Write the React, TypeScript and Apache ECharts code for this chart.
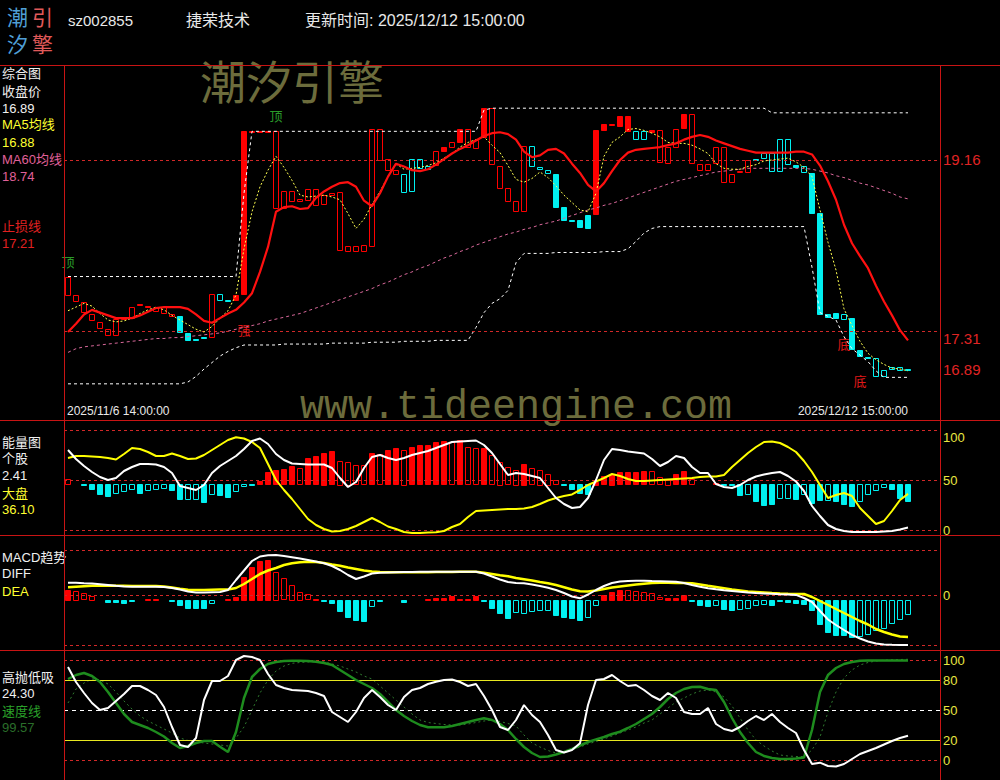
import React, { useEffect, useRef } from 'react';
import * as echarts from 'echarts';

// ---------- categories (60-minute bars) ----------
const tradingDays = ['2025/11/6', '2025/11/7', '2025/11/10', '2025/11/11', '2025/11/12', '2025/11/13', '2025/11/14',
  '2025/11/17', '2025/11/18', '2025/11/19', '2025/11/20', '2025/11/21', '2025/11/24', '2025/11/25', '2025/11/26',
  '2025/11/27', '2025/11/28', '2025/12/1', '2025/12/2', '2025/12/3', '2025/12/4', '2025/12/5', '2025/12/8',
  '2025/12/9', '2025/12/10', '2025/12/11', '2025/12/12'];
const sessionHours = ['10:30:00', '11:30:00', '14:00:00', '15:00:00'];
const barTimes: string[] = [];
tradingDays.forEach((d) => sessionHours.forEach((h) => barTimes.push(d + ' ' + h)));
barTimes.splice(0, 2); // first day starts at 14:00

// ---------- main panel ----------
const candleOpen = [
  17.71, 17.64, 17.52, 17.43, 17.34, 17.27, 17.27, 17.44, 17.45, 17.59,
  17.57, 17.53, 17.51, 17.48, 17.47, 17.29, 17.22, 17.245, 17.25, 17.71,
  17.645, 17.65, 17.71, 19.465, 19.465, 19.465, 18.64, 18.64, 18.71, 18.72,
  18.73, 18.68, 18.68, 18.78, 18.18, 18.18, 18.18, 18.17, 18.24, 19.17,
  19.05, 19.01, 19.01, 19.17, 19.17, 19.10, 19.11, 19.26, 19.30, 19.35,
  19.29, 19.29, 19.41, 19.11, 18.86, 18.72, 18.61, 18.61, 19.31, 19.08,
  19.05, 19.01, 18.65, 18.51, 18.51, 18.57, 18.57, 19.48, 19.54, 19.53,
  19.48, 19.47, 19.47, 19.46, 19.13, 19.13, 19.30, 19.51, 19.13, 19.06,
  19.06, 19.13, 18.92, 18.92, 19.03, 19.03, 19.175, 19.24, 19.24, 19.39,
  19.39, 19.11, 19.09, 19.02, 18.59, 17.49, 17.51, 17.50, 17.45, 17.11,
  17.035, 17.02, 16.89, 16.92, 16.92, 16.895];
const candleClose = [
  17.90, 17.70, 17.63, 17.50, 17.41, 17.33, 17.44, 17.46, 17.57, 17.60,
  17.58, 17.56, 17.57, 17.50, 17.30, 17.21, 17.21, 17.24, 17.71, 17.65,
  17.64, 17.70, 19.47, 19.47, 19.47, 19.47, 19.47, 18.82, 18.82, 18.74,
  18.85, 18.85, 18.78, 18.80, 18.81, 18.23, 18.23, 18.24, 19.50, 19.50,
  19.17, 19.05, 18.82, 18.82, 19.07, 19.07, 19.26, 19.30, 19.35, 19.49,
  19.49, 19.38, 19.72, 19.72, 19.10, 18.86, 18.72, 19.31, 19.09, 19.06,
  19.02, 18.65, 18.51, 18.50, 18.43, 18.43, 19.48, 19.55, 19.55, 19.64,
  19.64, 19.38, 19.38, 19.48, 19.48, 19.30, 19.50, 19.66, 19.66, 19.12,
  19.12, 19.30, 19.30, 19.01, 19.04, 19.16, 19.165, 19.19, 19.04, 19.04,
  19.12, 19.09, 19.03, 18.59, 17.50, 17.46, 17.46, 17.45, 17.11, 17.04,
  17.025, 16.82, 16.82, 16.90, 16.89, 16.89];
const candleSolid = [
  0, 0, 0, 0, 0, 0, 0, 0, 0, 1,
  1, 0, 0, 0, 1, 1, 1, 1, 0, 0,
  1, 1, 1, 1, 1, 1, 0, 0, 0, 0,
  0, 0, 0, 0, 0, 0, 0, 0, 0, 0,
  0, 0, 0, 0, 0, 0, 0, 1, 0, 1,
  0, 0, 1, 0, 0, 0, 0, 0, 0, 0,
  0, 1, 1, 1, 1, 1, 1, 1, 1, 1,
  1, 0, 0, 1, 0, 0, 0, 1, 0, 0,
  0, 0, 0, 0, 0, 0, 1, 0, 0, 0,
  0, 1, 0, 1, 1, 1, 1, 0, 1, 1,
  1, 0, 0, 0, 0, 1];
const stopLine = [
  17.30, 17.39, 17.49, 17.54, 17.51, 17.48, 17.45, 17.45, 17.45, 17.48,
  17.52, 17.56, 17.57, 17.57, 17.57, 17.55, 17.49, 17.42, 17.40, 17.45,
  17.50, 17.54, 17.62, 17.72, 17.95, 18.22, 18.60, 18.65, 18.66, 18.63,
  18.64, 18.75, 18.82, 18.87, 18.91, 18.92, 18.87, 18.72, 18.66, 18.80,
  18.98, 19.12, 19.09, 19.05, 19.04, 19.06, 19.11, 19.17, 19.23, 19.28,
  19.32, 19.37, 19.42, 19.45, 19.46, 19.44, 19.38, 19.25, 19.19, 19.21,
  19.27, 19.28, 19.23, 19.12, 19.02, 18.89, 18.82, 18.91, 19.04, 19.16,
  19.24, 19.27, 19.28, 19.29, 19.30, 19.32, 19.34, 19.38, 19.41, 19.43,
  19.41, 19.37, 19.34, 19.31, 19.28, 19.26, 19.24, 19.24, 19.24, 19.24,
  19.24, 19.25, 19.25, 19.22, 19.10, 18.93, 18.73, 18.46, 18.26, 18.12,
  17.99, 17.80, 17.63, 17.48, 17.32, 17.21];
const ma5 = [
  17.53, 17.57, 17.61, 17.58, 17.50, 17.43, 17.41, 17.42, 17.45, 17.50,
  17.54, 17.57, 17.54, 17.48, 17.43, 17.38, 17.33, 17.30, 17.36, 17.45,
  17.53, 17.70, 18.20, 18.60, 18.87, 19.05, 19.20, 19.08, 18.94, 18.78,
  18.76, 18.77, 18.78, 18.76, 18.73, 18.58, 18.42, 18.52, 18.68, 18.82,
  18.98, 19.12, 19.06, 19.07, 19.08, 19.10, 19.13, 19.18, 19.23, 19.30,
  19.35, 19.38, 19.41, 19.32, 19.24, 19.10, 18.95, 18.92, 18.96, 19.03,
  18.97, 18.88, 18.78, 18.70, 18.62, 18.60, 18.80, 19.20, 19.35, 19.41,
  19.49, 19.50, 19.48, 19.45, 19.41, 19.35, 19.34, 19.34, 19.32, 19.28,
  19.23, 19.12, 19.07, 19.06, 19.06, 19.09, 19.11, 19.15, 19.16, 19.17,
  19.18, 19.14, 19.08, 18.98, 18.62, 18.27, 17.97, 17.55, 17.37, 17.20,
  17.07, 17.00, 16.95, 16.91, 16.90, 16.88];
const ma60 = [
  17.08, 17.12, 17.14, 17.15, 17.16, 17.17, 17.18, 17.19, 17.20, 17.21,
  17.22, 17.23, 17.23, 17.24, 17.24, 17.25, 17.26, 17.27, 17.28, 17.29,
  17.31, 17.33, 17.35, 17.37, 17.39, 17.42, 17.44, 17.46, 17.48, 17.50,
  17.53, 17.56, 17.59, 17.62, 17.65, 17.68, 17.71, 17.74, 17.77, 17.81,
  17.84, 17.88, 17.92, 17.95, 17.99, 18.02, 18.06, 18.10, 18.13, 18.17,
  18.20, 18.24, 18.27, 18.30, 18.33, 18.36, 18.38, 18.41, 18.43, 18.46,
  18.48, 18.50, 18.53, 18.56, 18.59, 18.62, 18.64, 18.67, 18.69, 18.72,
  18.75, 18.78, 18.81, 18.84, 18.87, 18.90, 18.93, 18.95, 18.97, 18.99,
  19.01, 19.03, 19.04, 19.05, 19.06, 19.07, 19.07, 19.07, 19.07, 19.07,
  19.07, 19.07, 19.07, 19.06, 19.04, 19.02, 18.99, 18.97, 18.94, 18.91,
  18.89, 18.86, 18.83, 18.80, 18.76, 18.74];
const upperBand = [
  17.90, 17.90, 17.90, 17.90, 17.90, 17.90, 17.90, 17.90, 17.90, 17.90,
  17.90, 17.90, 17.90, 17.90, 17.90, 17.90, 17.90, 17.90, 17.90, 17.90,
  17.90, 17.90, 18.80, 19.47, 19.47, 19.47, 19.47, 19.47, 19.47, 19.47,
  19.47, 19.47, 19.47, 19.47, 19.47, 19.47, 19.47, 19.47, 19.47, 19.47,
  19.47, 19.47, 19.47, 19.47, 19.47, 19.47, 19.47, 19.47, 19.47, 19.47,
  19.47, 19.47, 19.70, 19.72, 19.72, 19.72, 19.72, 19.72, 19.72, 19.72,
  19.72, 19.72, 19.72, 19.72, 19.72, 19.72, 19.72, 19.72, 19.72, 19.72,
  19.72, 19.72, 19.72, 19.72, 19.72, 19.72, 19.72, 19.72, 19.72, 19.72,
  19.72, 19.72, 19.72, 19.72, 19.72, 19.72, 19.72, 19.72, 19.67, 19.67,
  19.67, 19.67, 19.67, 19.67, 19.67, 19.67, 19.67, 19.67, 19.67, 19.67,
  19.67, 19.67, 19.67, 19.67, 19.67, 19.67];
const lowerBand = [
  16.74, 16.74, 16.74, 16.74, 16.74, 16.74, 16.74, 16.74, 16.74, 16.74,
  16.74, 16.74, 16.74, 16.74, 16.74, 16.76, 16.82, 16.90, 16.97, 17.04,
  17.09, 17.13, 17.16, 17.16, 17.16, 17.16, 17.16, 17.17, 17.17, 17.17,
  17.17, 17.17, 17.17, 17.18, 17.18, 17.18, 17.18, 17.18, 17.19, 17.19,
  17.19, 17.19, 17.20, 17.20, 17.20, 17.20, 17.21, 17.21, 17.21, 17.21,
  17.21, 17.35, 17.51, 17.61, 17.66, 17.75, 18.05, 18.15, 18.15, 18.15,
  18.15, 18.16, 18.16, 18.16, 18.16, 18.16, 18.16, 18.17, 18.17, 18.17,
  18.20, 18.28, 18.37, 18.42, 18.44, 18.44, 18.44, 18.44, 18.44, 18.44,
  18.44, 18.44, 18.44, 18.44, 18.44, 18.44, 18.44, 18.44, 18.44, 18.44,
  18.44, 18.44, 18.44, 18.00, 17.51, 17.47, 17.43, 17.25, 17.12, 17.05,
  16.98, 16.88, 16.81, 16.81, 16.81, 16.81];
const signalIndex = [0, 26, 22, 97, 99];
const signalPrice = [18.05, 19.625, 17.32, 17.16, 16.76];
const signalText = ['顶', '顶', '强', '底', '底'];
const priceTicks = [19.16, 17.31];

// ---------- energy panel ----------
const energyBar = [
  5.2, 0, -1, -5, -10, -12, -9, -7, -5, -8.5,
  -6, -5, -4, -6, -14.5, -14.5, -14.5, -18, -10, -11,
  -12.5, -7, -1.5, -0.5, 2.8, 12, 13.7, 15.4, 17.7, 16,
  26, 28, 31.5, 33, 23.5, 22.5, 19, 19, 30.8, 30,
  34, 36, 34.5, 37.3, 39, 39, 42, 43, 42, 44,
  37, 36, 36, 29, 22.5, 17, 14.5, 20.5, 16, 14.5,
  10.5, 4, -0.5, -5, -9, -10, 2.5, 8, 9.5, 12,
  12, 12, 13, 13, 7, 4.5, 10, 13, 5, 0,
  0, 1, -1, -1, -11, -10, -16.5, -21, -20, -13.5,
  -13.5, -14.5, -10, -18.5, -15.5, -15.5, -16.5, -20, -21.5, -16.5,
  -10, -6, -2.5, -5, -13.5, -16.5];
const energySolid = [
  0, 0, 1, 1, 1, 1, 0, 0, 0, 1,
  0, 0, 0, 1, 1, 0, 0, 1, 0, 1,
  1, 0, 0, 1, 1, 1, 1, 1, 1, 0,
  1, 1, 1, 1, 0, 0, 0, 0, 1, 0,
  1, 1, 0, 1, 1, 1, 1, 1, 0, 1,
  0, 0, 1, 0, 0, 0, 0, 1, 0, 0,
  0, 0, 1, 1, 1, 1, 1, 1, 1, 1,
  1, 1, 1, 0, 0, 0, 1, 1, 0, 0,
  0, 1, 1, 1, 1, 0, 1, 1, 1, 0,
  0, 1, 0, 1, 1, 0, 1, 1, 1, 0,
  0, 0, 0, 1, 1, 1];
const energyStock = [
  80, 71, 64, 58, 53, 50, 52, 59, 63, 66,
  66, 65.5, 63, 57, 44, 42, 40, 45, 57, 64,
  69, 74, 81, 89, 91.5, 86, 76, 70, 66.5, 66,
  65.5, 65.5, 65.5, 62, 52, 43, 48, 62, 73, 75,
  72, 70, 72, 75, 77, 79, 82, 85, 88, 88.5,
  89, 89.5, 85, 77, 66, 55, 57, 56, 54, 52,
  42, 32, 26, 22, 23, 32, 50, 70, 81, 80,
  78.5, 77.5, 76.5, 71, 64, 68, 74, 72, 63, 57,
  57, 46, 43, 42, 45, 50, 53.5, 55.5, 57, 58,
  54, 48.5, 39, 24, 14, 5, 1, -1, -2, -2,
  -2, -2, -1.5, -1, 0.5, 2.41];
const energyMarket = [
  72, 74, 74, 73.5, 73, 72, 70.5, 76, 82, 81,
  78, 74, 74, 76.5, 74, 71, 71.5, 75, 80, 85,
  90, 92.8, 91.5, 88, 82, 66, 50, 40, 31, 21,
  11, 5, 1, -1.5, -1, 1, 4, 8, 12, 8,
  3.5, 1, -2, -3, -3, -2.5, -2.3, -1, 3, 6,
  13, 19, 19.5, 20, 20.5, 21, 21, 21.5, 23, 26,
  29.5, 32, 34, 35.6, 40, 45, 48.5, 52, 56, 54,
  51, 49, 49, 49.5, 50, 50.5, 51, 51.5, 52, 53,
  53.4, 53.6, 55, 63, 70, 77, 83, 88, 88.5, 87,
  83, 78, 69, 58, 45, 32, 35, 37, 34, 22,
  14, 6, 9, 19, 30, 36.1];
const energyTicks = [0, 50, 100];

// ---------- MACD panel ----------
const macdBar = [
  0.10, 0.088, 0.062, 0.035, 0, -0.015, -0.015, -0.032, -0.010, 0,
  0.005, 0.005, 0, -0.010, -0.045, -0.078, -0.078, -0.078, -0.030, 0,
  0.010, 0.028, 0.228, 0.328, 0.388, 0.395, 0.278, 0.212, 0.145, 0.078,
  0.052, 0.005, -0.010, -0.030, -0.112, -0.165, -0.195, -0.205, -0.055, -0.010,
  0, 0, -0.020, 0, 0, 0.005, 0.015, 0.015, 0.035, 0.010,
  0.010, 0.040, -0.010, -0.080, -0.130, -0.175, -0.120, -0.130, -0.110, -0.095,
  -0.095, -0.145, -0.170, -0.180, -0.195, -0.165, -0.045, 0.045, 0.080, 0.100,
  0.100, 0.088, 0.078, 0.068, 0.022, 0.015, 0.020, 0.045, -0.010, -0.045,
  -0.058, -0.045, -0.092, -0.100, -0.085, -0.075, -0.050, -0.035, -0.045, -0.010,
  -0.020, -0.028, -0.040, -0.095, -0.240, -0.315, -0.350, -0.350, -0.365, -0.360,
  -0.335, -0.300, -0.275, -0.228, -0.185, -0.135];
const macdSolid = [
  1, 0, 0, 0, 0, 1, 1, 1, 1, 0,
  1, 1, 0, 1, 1, 1, 1, 1, 0, 0,
  1, 1, 1, 1, 1, 1, 0, 0, 0, 0,
  0, 1, 1, 1, 1, 1, 1, 1, 0, 1,
  0, 0, 1, 0, 0, 1, 1, 1, 1, 1,
  1, 1, 1, 1, 1, 1, 0, 0, 0, 0,
  0, 1, 1, 1, 1, 0, 0, 1, 1, 1,
  0, 0, 0, 0, 0, 1, 1, 1, 1, 1,
  1, 0, 1, 1, 0, 0, 0, 0, 1, 1,
  1, 1, 1, 1, 1, 1, 1, 1, 1, 0,
  0, 0, 0, 0, 0, 0];
const macdDiff = [
  0.123, 0.122, 0.118, 0.115, 0.108, 0.100, 0.092, 0.085, 0.083, 0.083,
  0.083, 0.083, 0.080, 0.070, 0.055, 0.035, 0.025, 0.025, 0.028, 0.030,
  0.050, 0.150, 0.245, 0.340, 0.385, 0.397, 0.400, 0.390, 0.378, 0.365,
  0.350, 0.335, 0.318, 0.290, 0.250, 0.200, 0.160, 0.185, 0.215, 0.222,
  0.226, 0.228, 0.230, 0.231, 0.232, 0.233, 0.233, 0.233, 0.233, 0.233,
  0.233, 0.233, 0.215, 0.185, 0.155, 0.130, 0.120, 0.118, 0.105, 0.090,
  0.072, 0.050, 0.020, -0.015, -0.033, 0.005, 0.050, 0.090, 0.120, 0.135,
  0.140, 0.143, 0.143, 0.140, 0.138, 0.136, 0.133, 0.120, 0.100, 0.082,
  0.068, 0.057, 0.048, 0.040, 0.032, 0.025, 0.020, 0.016, 0.012, 0.008,
  0.005, 0.001, -0.030, -0.070, -0.160, -0.245, -0.300, -0.350, -0.398, -0.435,
  -0.465, -0.485, -0.495, -0.498, -0.500, -0.500];
const macdDea = [
  0.078, 0.083, 0.088, 0.092, 0.093, 0.093, 0.092, 0.092, 0.091, 0.091,
  0.090, 0.090, 0.085, 0.075, 0.063, 0.053, 0.050, 0.050, 0.052, 0.054,
  0.056, 0.070, 0.110, 0.160, 0.210, 0.245, 0.270, 0.300, 0.318, 0.328,
  0.333, 0.330, 0.320, 0.305, 0.292, 0.275, 0.260, 0.245, 0.235, 0.230,
  0.228, 0.227, 0.227, 0.227, 0.227, 0.228, 0.229, 0.230, 0.231, 0.232,
  0.233, 0.232, 0.222, 0.210, 0.198, 0.188, 0.170, 0.158, 0.145, 0.130,
  0.118, 0.100, 0.078, 0.055, 0.038, 0.035, 0.045, 0.060, 0.075, 0.085,
  0.095, 0.105, 0.113, 0.120, 0.123, 0.122, 0.121, 0.119, 0.117, 0.105,
  0.092, 0.080, 0.068, 0.055, 0.045, 0.035, 0.030, 0.025, 0.020, 0.016,
  0.013, 0.011, 0.010, -0.020, -0.060, -0.100, -0.140, -0.180, -0.220, -0.260,
  -0.295, -0.340, -0.370, -0.395, -0.415, -0.420];
const macdGuides = [0.45, 0, -0.5];
const macdTicks = [0];

// ---------- high-sell / low-buy panel ----------
const swingLine = [
  93, 78, 67, 57, 50, 52, 59, 66, 74, 74,
  70, 65, 53, 33, 15, 13, 22, 60, 79, 79,
  84, 100, 104, 103, 100, 86, 75, 72, 70, 69.5,
  69, 67, 64, 48, 43, 38, 48, 62, 70, 63,
  55, 50, 63, 70, 72, 76, 78.3, 80, 80.5, 78,
  74, 76, 64, 50, 33, 30, 40, 55, 45, 38,
  25, 10, 7.5, 10, 16.7, 55, 80, 81, 85, 79,
  74, 75, 70, 64, 60, 67, 62, 48, 46, 46,
  52, 36, 31, 29, 33, 39, 44, 40, 46, 38,
  32, 27, 10, -4, -2.7, -6, -6.5, -4, 1, 6,
  9, 12, 15.5, 19, 22, 24.3];
const speedLine = [
  81, 85, 87, 84, 78, 68, 57, 46, 38, 35,
  32, 28, 23.5, 17, 12, 14, 17, 19, 19, 13.3,
  8, 28, 62, 83, 91, 96, 98, 99, 99.3, 99.2,
  99, 98.3, 97, 95, 90, 85, 80, 76, 72, 66,
  58, 50, 44, 39, 35, 32.7, 32.7, 32.7, 34, 36,
  38, 40, 41.7, 40, 36, 30, 21, 13, 7, 3,
  3.5, 5.5, 8, 11, 14.5, 18, 20.5, 23, 26, 28.3,
  32, 36, 41, 46, 53, 61, 67, 71, 73, 73.3,
  71, 70, 58, 42, 28, 17, 8, 4, 2, 1,
  1, 1.5, 2.5, 30, 68, 85, 92, 96, 98, 99.3,
  99.5, 99.6, 99.6, 99.6, 99.57, 99.57];
const speedSlow = [
  57, 71, 77, 81, 80, 76, 68, 59, 51, 44,
  39, 35, 31, 27, 22, 19.5, 18, 17, 16, 15,
  14, 22, 33, 50, 67, 80, 89, 94, 96.7, 97.5,
  98, 98.3, 98.3, 96, 94, 91, 88, 84, 81, 74,
  67, 60, 53, 46, 40, 37.5, 36.5, 35.5, 35, 35,
  36, 37.5, 39, 40, 38.5, 36.5, 34, 25, 17, 13,
  9.5, 7, 8, 10.5, 13, 16, 18.5, 21, 24, 27,
  30, 33, 37, 40, 46, 52, 58, 62, 66, 69,
  70, 68, 63, 54, 42, 30, 20, 14, 9, 5,
  4, 3.5, 3.3, 10, 23, 48, 68, 82, 90, 95,
  97.5, 99, 99.8, 100.2, 100.5, 100.7];
const swingTicks = [0, 20, 50, 80, 100];

// ---------- styling ----------
const RED = '#ff0000';
const CYAN = '#00f0f0';
const YELLOW = '#ffff00';
const WHITE = '#ffffff';
const FRAME = '#c81414';
const GUIDE = '#d02828';
const FONT = '"Liberation Sans", "Noto Sans CJK SC", sans-serif';

const PLOT_LEFT = 64;
const PLOT_RIGHT = 940;
const PANELS = [
  { top: 65, bottom: 420, min: 16.349, max: 20.187 },
  { top: 420, bottom: 535, min: -5, max: 110 },
  { top: 535, bottom: 650, min: -0.55, max: 0.6 },
  { top: 650, bottom: 780, min: -20, max: 110 },
];
const ENERGY_BASE = 46;
const MACD_BASE = -0.045;

const pts = (arr: number[]) => arr.map((v, i) => [i, v]);

function line(data: number[], g: number, color: string, width: number, type: any = 'solid', z = 5, extra: any = {}) {
  return {
    type: 'line', xAxisIndex: g, yAxisIndex: g, data: pts(data), showSymbol: false, symbol: 'none',
    silent: true, lineStyle: { color, width, type }, z, ...extra,
  };
}

function guideLines(items: any[]) {
  return {
    symbol: ['none', 'none'], silent: true, animation: false, label: { show: false },
    lineStyle: { color: GUIDE, width: 1, type: [3, 3] },
    data: items,
  };
}

function barSeries(g: number, values: number[], solid: number[], base: number) {
  return {
    type: 'custom', xAxisIndex: g, yAxisIndex: g, silent: true, z: 3,
    data: values.map((v, i) => [i, v, solid[i]]),
    encode: { x: 0, y: 1 },
    renderItem: (params: any, api: any) => {
      const i = api.value(0);
      const d = api.value(1);
      if (d === 0) return null;
      const s = api.value(2);
      const p0 = api.coord([i, base]);
      const p1 = api.coord([i, base + d]);
      const w = Math.round(api.size([1, 0])[0] * 0.75);
      const color = d > 0 ? RED : CYAN;
      const top = Math.round(Math.min(p0[1], p1[1]));
      const h = Math.max(1, Math.round(Math.abs(p1[1] - p0[1])));
      return {
        type: 'rect',
        shape: { x: Math.round(p0[0] - w / 2) + 0.5, y: top + 0.5, width: w - 1, height: h },
        style: { fill: s ? color : 'none', stroke: color, lineWidth: 1 },
      };
    },
  };
}

function txt(x: number, y: number, text: string, fill: string, size = 13, align = 'left', font = FONT, z = 10) {
  return {
    type: 'text', x, y, z, silent: true,
    style: {
      text, fill, font: `${size}px ${font}`, lineHeight: size + 1,
      textAlign: align, align, textVerticalAlign: 'middle', verticalAlign: 'middle',
    },
  };
}

function hline(y: number, x1: number, x2: number, color = FRAME) {
  return { type: 'line', silent: true, z: 20, shape: { x1, y1: y + 0.5, x2, y2: y + 0.5 }, style: { stroke: color, lineWidth: 1 } };
}
function vline(x: number, y1: number, y2: number, color = FRAME) {
  return { type: 'line', silent: true, z: 20, shape: { x1: x + 0.5, y1, x2: x + 0.5, y2 }, style: { stroke: color, lineWidth: 1 } };
}

function buildOption() {
  const last = candleClose.length - 1;
  const grids = PANELS.map((p) => ({ left: PLOT_LEFT, width: PLOT_RIGHT - PLOT_LEFT, top: p.top, height: p.bottom - p.top }));
  const xAxes = PANELS.map((_, g) => ({ type: 'value', gridIndex: g, min: -0.5, max: 109, show: false }));
  const yBase = (g: number, ticks: number[], color: string, size: number, fmt: (v: number) => string, shifted: number[] = []) => ({
    type: 'value', gridIndex: g, min: PANELS[g].min, max: PANELS[g].max, position: 'right',
    axisLine: { show: false }, axisTick: { show: false }, splitLine: { show: false },
    axisLabel: {
      show: true, customValues: ticks, margin: 3,
      formatter: (v: number) => (shifted.some((s) => Math.abs(s - v) < 1e-6) ? `{low|${fmt(v)}}` : `{n|${fmt(v)}}`),
      rich: {
        n: { color, fontSize: size, fontFamily: FONT },
        low: { color, fontSize: size, fontFamily: FONT, padding: [14, 0, 0, 0] },
      },
    },
  });
  const yAxes = [
    yBase(0, [...priceTicks, candleClose[last]], '#e02424', 15, (v) => Number(v).toFixed(2), [priceTicks[1]]),
    yBase(1, energyTicks, '#e8e840', 13, (v) => String(Math.round(v)), [100]),
    yBase(2, macdTicks, '#e8e840', 13, (v) => String(Math.round(v))),
    yBase(3, swingTicks, '#e8e840', 13, (v) => String(Math.round(v))),
  ];

  const candleSeries = {
    type: 'custom', xAxisIndex: 0, yAxisIndex: 0, silent: true, z: 3,
    data: candleOpen.map((o, i) => [i, o, candleClose[i], candleSolid[i]]),
    encode: { x: 0, y: [1, 2] },
    renderItem: (params: any, api: any) => {
      const i = api.value(0);
      const o = api.value(1);
      const c = api.value(2);
      const s = api.value(3);
      const color = c >= o ? RED : CYAN;
      const pTop = api.coord([i, Math.max(o, c)]);
      const pBot = api.coord([i, Math.min(o, c)]);
      const w = Math.round(api.size([1, 0])[0] * 0.75);
      const h = Math.max(1, Math.round(pBot[1] - pTop[1]));
      return {
        type: 'rect',
        shape: { x: Math.round(pTop[0] - w / 2) + 0.5, y: Math.round(pTop[1]) + 0.5, width: w - 1, height: h },
        style: { fill: s ? color : 'none', stroke: color, lineWidth: 1 },
      };
    },
  };

  const signalSeries = {
    type: 'custom', xAxisIndex: 0, yAxisIndex: 0, silent: true, z: 2,
    data: signalIndex.map((i, k) => [i, signalPrice[k]]),
    encode: { x: 0, y: 1 },
    renderItem: (params: any, api: any) => {
      const p = api.coord([api.value(0), api.value(1)]);
      const t = signalText[params.dataIndex];
      return {
        type: 'text', x: p[0], y: p[1],
        style: {
          text: t, fill: t === '顶' ? '#2a9a2a' : '#e01818', font: `13px ${FONT}`, lineHeight: 14,
          textAlign: 'center', align: 'center', textVerticalAlign: 'middle', verticalAlign: 'middle',
        },
      };
    },
  };

  const series: any[] = [
    signalSeries,
    candleSeries,
    line(upperBand, 0, WHITE, 1, [3, 3], 4),
    line(lowerBand, 0, WHITE, 1, [3, 3], 4),
    line(ma60, 0, '#d8689a', 1, [3, 3], 4),
    line(ma5, 0, '#ffff50', 1, [2, 2], 5),
    line(stopLine, 0, '#ff1010', 2.2, 'solid', 6, {
      markLine: guideLines(priceTicks.map((v) => ({ yAxis: v }))),
    }),
    barSeries(1, energyBar, energySolid, ENERGY_BASE),
    line(energyMarket, 1, YELLOW, 2, 'solid', 5, {
      markLine: guideLines(energyTicks.map((v) => ({ yAxis: v }))),
    }),
    line(energyStock, 1, WHITE, 2, 'solid', 6),
    barSeries(2, macdBar, macdSolid, MACD_BASE),
    line(macdDea, 2, YELLOW, 2.5, 'solid', 5, {
      markLine: guideLines(macdGuides.map((v) => ({ yAxis: v }))),
    }),
    line(macdDiff, 2, WHITE, 2, 'solid', 6),
    line(speedSlow, 3, '#2f7a2f', 1, [2, 3], 4, {
      markLine: guideLines([
        { yAxis: 100 }, { yAxis: 0 },
        { yAxis: 80, lineStyle: { color: '#e8e820', type: 'solid', width: 1 } },
        { yAxis: 20, lineStyle: { color: '#e8e820', type: 'solid', width: 1 } },
        { yAxis: 50, lineStyle: { color: WHITE, type: [4, 4], width: 1 } },
      ]),
    }),
    line(speedLine, 3, '#1e8c1e', 2.5, 'solid', 5),
    line(swingLine, 3, WHITE, 2, 'solid', 6),
  ];

  const f2 = (v: number) => v.toFixed(2);
  const graphics: any[] = [
    // logo
    txt(7, 17, '潮', '#4f9fd6', 21),
    txt(32, 17, '引', '#e05a5a', 21),
    txt(7, 44, '汐', '#4f9fd6', 21),
    txt(32, 44, '擎', '#e05a5a', 21),
    // header
    txt(68, 20, 'sz002855', '#e8e8e8', 15),
    txt(186, 20, '捷荣技术', '#e8e8e8', 16),
    txt(305, 20, '更新时间: 2025/12/12 15:00:00', '#e8e8e8', 16),
    // watermarks
    { ...txt(200, 83, '潮汐引擎', '#6c6c3c', 46), z: 0 },
    { ...txt(300, 407, 'www.tideengine.com', '#6c6c3c', 40, 'left', '"Liberation Mono", "DejaVu Sans Mono", monospace'), z: 0 },
    // dates
    txt(67, 411, barTimes[0], '#e8e8e8', 12),
    txt(908, 411, barTimes[last], '#e8e8e8', 12, 'right'),
    // main panel labels
    txt(2, 73, '综合图', '#f0f0f0'),
    txt(2, 91, '收盘价', '#f0f0f0'),
    txt(2, 108, f2(candleClose[last]), '#f0f0f0'),
    txt(2, 124, 'MA5均线', '#ffff30'),
    txt(2, 142, f2(ma5[last]), '#ffff30'),
    txt(2, 159, 'MA60均线', '#e0609a'),
    txt(2, 176, f2(ma60[last]), '#e0609a'),
    txt(2, 226, '止损线', '#e02020'),
    txt(2, 243, f2(stopLine[last]), '#e02020'),
    // energy labels
    txt(2, 442, '能量图', '#f0f0f0'),
    txt(2, 458, '个股', '#f0f0f0'),
    txt(2, 475, f2(energyStock[last]), '#f0f0f0'),
    txt(2, 493, '大盘', '#ffff30'),
    txt(2, 509, f2(energyMarket[last]), '#ffff30'),
    // macd labels
    txt(2, 557, 'MACD趋势', '#f0f0f0'),
    txt(2, 573, 'DIFF', '#f0f0f0'),
    txt(2, 591, 'DEA', '#ffff30'),
    // swing labels
    txt(2, 677, '高抛低吸', '#f0f0f0'),
    txt(2, 693, f2(swingLine[last]), '#f0f0f0'),
    txt(2, 711, '速度线', '#2aa02a'),
    txt(2, 727, f2(speedLine[last]), '#2a6e2a'),
    // frame
    hline(65, 0, 1000),
    hline(420, 0, 1000),
    hline(535, 0, 1000),
    hline(650, 0, 1000),
    vline(PLOT_LEFT, 65, 780),
    vline(PLOT_RIGHT, 65, 780),
  ];

  return {
    animation: false,
    backgroundColor: '#000000',
    grid: grids,
    xAxis: xAxes,
    yAxis: yAxes,
    series,
    graphic: { elements: graphics },
  };
}

export default function App() {
  const ref = useRef<HTMLDivElement>(null);
  useEffect(() => {
    document.body.style.margin = '0';
    document.body.style.background = '#000';
    const chart = echarts.init(ref.current as HTMLDivElement, null, { renderer: 'svg' });
    chart.setOption(buildOption() as any);
    return () => chart.dispose();
  }, []);
  return <div ref={ref} style={{ width: 1000, height: 780, background: '#000' }} />;
}
